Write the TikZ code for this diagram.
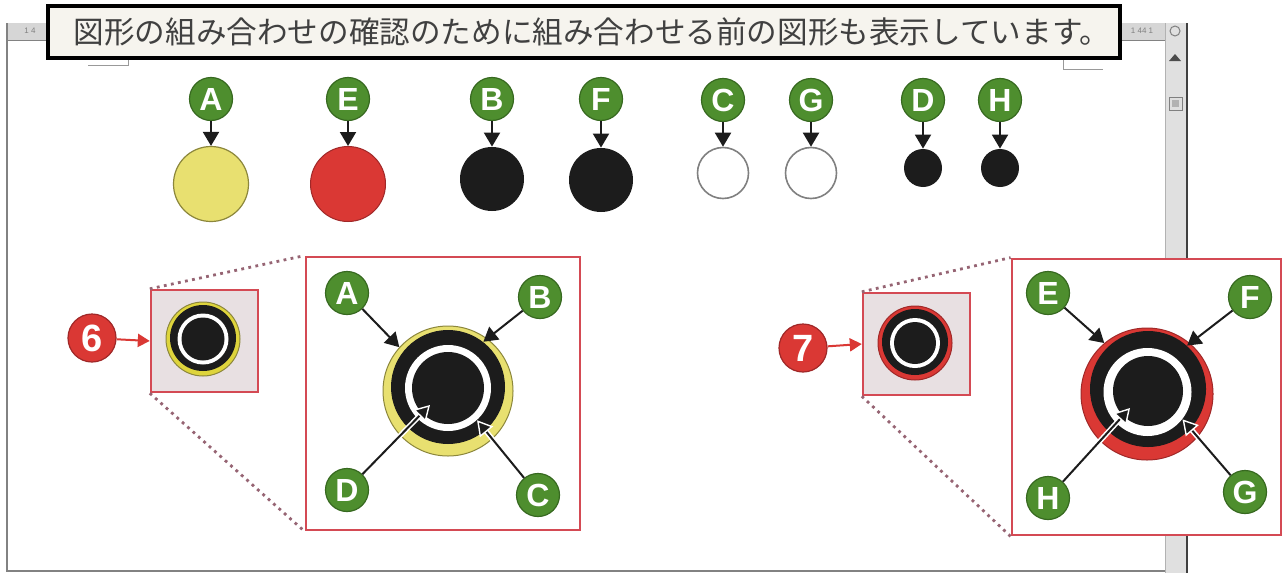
\documentclass[tikz,border=0pt]{standalone}
\usepackage{fontspec}
\setmainfont{Liberation Sans}
\newfontfamily\jpfont{Noto Sans CJK JP}
\usetikzlibrary{arrows.meta}
\definecolor{lgreen}{RGB}{78,142,46}
\definecolor{dgreen}{RGB}{55,105,32}
\definecolor{myred}{RGB}{218,56,52}
\definecolor{dred}{RGB}{160,40,40}
\definecolor{boxred}{RGB}{212,74,84}
\definecolor{dotc}{RGB}{150,100,115}
\definecolor{myyellow}{RGB}{232,224,112}
\definecolor{syellow}{RGB}{222,212,60}
\definecolor{olive}{RGB}{140,135,60}
\definecolor{ink}{RGB}{28,28,28}
\definecolor{titlebg}{RGB}{246,244,238}
\definecolor{smallbg}{RGB}{232,224,226}
\definecolor{sbar}{RGB}{224,224,224}
\definecolor{rulerc}{RGB}{214,214,214}
\definecolor{frame}{RGB}{130,130,130}
\tikzset{
  lab/.style={circle, fill=lgreen, draw=dgreen, line width=0.6pt, minimum size=21.5pt,
    inner sep=0pt, text=white, font=\bfseries\fontsize{16}{16}\selectfont},
  badge/.style={circle, fill=myred, draw=dred, line width=0.6pt, minimum size=24pt,
    inner sep=0pt, text=white, font=\bfseries\fontsize{19}{19}\selectfont},
  disc/.style={circle, inner sep=0pt, minimum size=#1},
  arr/.style={draw=ink, line width=1pt, -{Triangle[length=7pt,width=8pt]}},
  warr/.style={draw=ink, line width=1pt, -{Triangle[length=7.5pt,width=8.5pt,fill=ink,color=white,line width=0.7pt]}},
  warrbg/.style={draw=white, line width=2.6pt, shorten <=1pt, shorten >=5pt},
  rarr/.style={draw=myred, line width=1pt, -{Triangle[length=6pt,width=6.5pt]}},
  smallbox/.style={draw=boxred, line width=1.2pt, fill=smallbg, minimum width=53.5pt, minimum height=51pt, inner sep=0pt},
  bigbox/.style={draw=boxred, line width=1.4pt, fill=white, inner sep=0pt},
  dots/.style={draw=dotc, line width=1.4pt, dash pattern=on 1.4pt off 2.2pt},
}
\begin{document}
\begin{tikzpicture}[x=0.5pt,y=-0.5pt]
\useasboundingbox (0,0) rectangle (1283,573);
\fill[white] (0,0) rectangle (1283,573);
% window frame
\fill[rulerc] (7,23) rectangle (1165,40);
\draw[frame, line width=0.4pt] (7,40) -- (1165,40);
\node[text=gray, font=\fontsize{4}{4}\selectfont] (rl) at (30,31) {1 4};
\node[text=gray, font=\fontsize{4}{4}\selectfont] (rr) at (1142,31) {1 44 1};
\draw[frame, line width=1pt] (7,23) -- (7,571) -- (1165,571);
\fill[sbar] (1165,23) rectangle (1187,573);
\draw[gray!60, line width=0.4pt] (1165,23) -- (1165,573);
\draw[gray!50!black, line width=1pt] (1187,23) -- (1187,573);
\draw[gray, line width=0.5pt] (1175,31) circle (5);
\fill[gray!60!black] (1169,61) -- (1181,61) -- (1175,54) -- cycle;
\draw[gray, fill=gray!25, line width=0.5pt] (1169,97) rectangle (1182,110);
\fill[gray!60] (1172,100) rectangle (1179,107);
% page margin marks
\draw[gray!80, line width=0.5pt] (88,65) -- (128,65) -- (128,58);
\draw[gray!80, line width=0.5pt] (1063,58) -- (1063,69) -- (1103,69);
% title
\node[draw=black, line width=2.2pt, fill=titlebg, minimum width=536pt, minimum height=26pt, inner sep=0pt,
  text=black!75, font=\jpfont\fontsize{15.3}{15.3}\selectfont] (title) at (584,32)
  {\hspace*{8pt}図形の組み合わせの確認のために組み合わせる前の図形も表示しています。};
% top row
\node[disc=37.5pt, fill=myyellow, draw=olive, line width=0.6pt] (cA) at (211,184) {};
\node[disc=37.5pt, fill=myred, draw=dred, line width=0.5pt] (cE) at (348,184) {};
\node[disc=32pt, fill=ink] (cB) at (492,179) {};
\node[disc=32pt, fill=ink] (cF) at (601,180) {};
\node[disc=25.5pt, fill=white, draw=gray, line width=0.8pt] (cC) at (723,173) {};
\node[disc=25.5pt, fill=white, draw=gray, line width=0.8pt] (cG) at (811,173) {};
\node[disc=19pt, fill=ink] (cD) at (923,168) {};
\node[disc=19pt, fill=ink] (cH) at (1000,168) {};
\node[lab] (tA) at (211,99) {A};
\node[lab] (tE) at (348,99) {E};
\node[lab] (tB) at (492,99) {B};
\node[lab] (tF) at (601,99) {F};
\node[lab] (tC) at (723,100) {C};
\node[lab] (tG) at (811,100) {G};
\node[lab] (tD) at (923,100) {D};
\node[lab] (tH) at (1000,100) {H};
\foreach \p in {A,E,B,F,C,G,D,H} \draw[arr] (t\p) -- (c\p);
% ===== group 6 =====
\node[smallbox] (s6) at (204.5,341) {};
\node[bigbox, minimum width=137pt, minimum height=136.5pt] (B6) at (443,393.5) {};
\draw[dots] (s6.north west) -- (B6.north west);
\draw[dots] (s6.south west) -- (B6.south west);
\node[disc=37pt, fill=syellow, draw=olive, line width=0.5pt] (sy6) at (203,339) {};
\node[disc=33pt, fill=ink] (sk6) at (203,338) {};
\node[disc=25.5pt, fill=white] (sw6) at (203,339) {};
\node[disc=21.5pt, fill=ink] (sc6) at (203,339) {};
\node[badge] (b6) at (92,338) {6};
\draw[rarr] (b6) -- (s6.west);
\node[disc=65pt, fill=myyellow, draw=olive, line width=0.5pt] (y6) at (448,391) {};
\node[disc=57pt, fill=ink] (k6) at (448,387) {};
\node[disc=43pt, fill=white] (w6) at (448,388) {};
\node[disc=36pt, fill=ink] (c6) at (448,388) {};
\coordinate (d6t) at (430,405);
\node[lab] (A6) at (347,293) {A};
\node[lab] (Bl6) at (540,297) {B};
\node[lab] (D6) at (347,490) {D};
\node[lab] (C6) at (538,495) {C};
\draw[arr] (A6) -- (y6.138);
\draw[arr] (Bl6) -- (k6.52);
\draw[warrbg] (C6) -- (w6.-48);
\draw[warr] (C6) -- (w6.-48);
\draw[warrbg] (D6) -- (d6t);
\draw[warr] (D6) -- (d6t);
% ===== group 7 =====
\node[smallbox] (s7) at (916.5,344) {};
\node[bigbox, minimum width=134.5pt, minimum height=138pt] (B7) at (1146.5,397) {};
\draw[dots] (s7.north west) -- (B7.north west);
\draw[dots] (s7.south west) -- (B7.south west);
\node[disc=37pt, fill=myred, draw=dred, line width=0.5pt] (sr7) at (915,343) {};
\node[disc=33pt, fill=ink] (sk7) at (915,342) {};
\node[disc=25pt, fill=white] (sw7) at (915,343) {};
\node[disc=21pt, fill=ink] (sc7) at (915,343) {};
\node[badge] (b7) at (803,348) {7};
\draw[rarr] (b7) -- (s7.west);
\node[disc=66pt, fill=myred, draw=dred, line width=0.5pt] (r7) at (1147,394) {};
\node[disc=58pt, fill=ink] (k7) at (1148,389) {};
\node[disc=44pt, fill=white] (w7) at (1147.5,392) {};
\node[disc=35pt, fill=ink] (c7) at (1148,391) {};
\coordinate (h7t) at (1130,408);
\node[lab] (E7) at (1048,293) {E};
\node[lab] (F7) at (1250,297) {F};
\node[lab] (H7) at (1048,498) {H};
\node[lab] (G7) at (1245,492) {G};
\draw[arr] (E7) -- (r7.130);
\draw[arr] (F7) -- (k7.48);
\draw[warrbg] (G7) -- (w7.-38);
\draw[warr] (G7) -- (w7.-38);
\draw[warrbg] (H7) -- (h7t);
\draw[warr] (H7) -- (h7t);
\end{tikzpicture}
\end{document}
